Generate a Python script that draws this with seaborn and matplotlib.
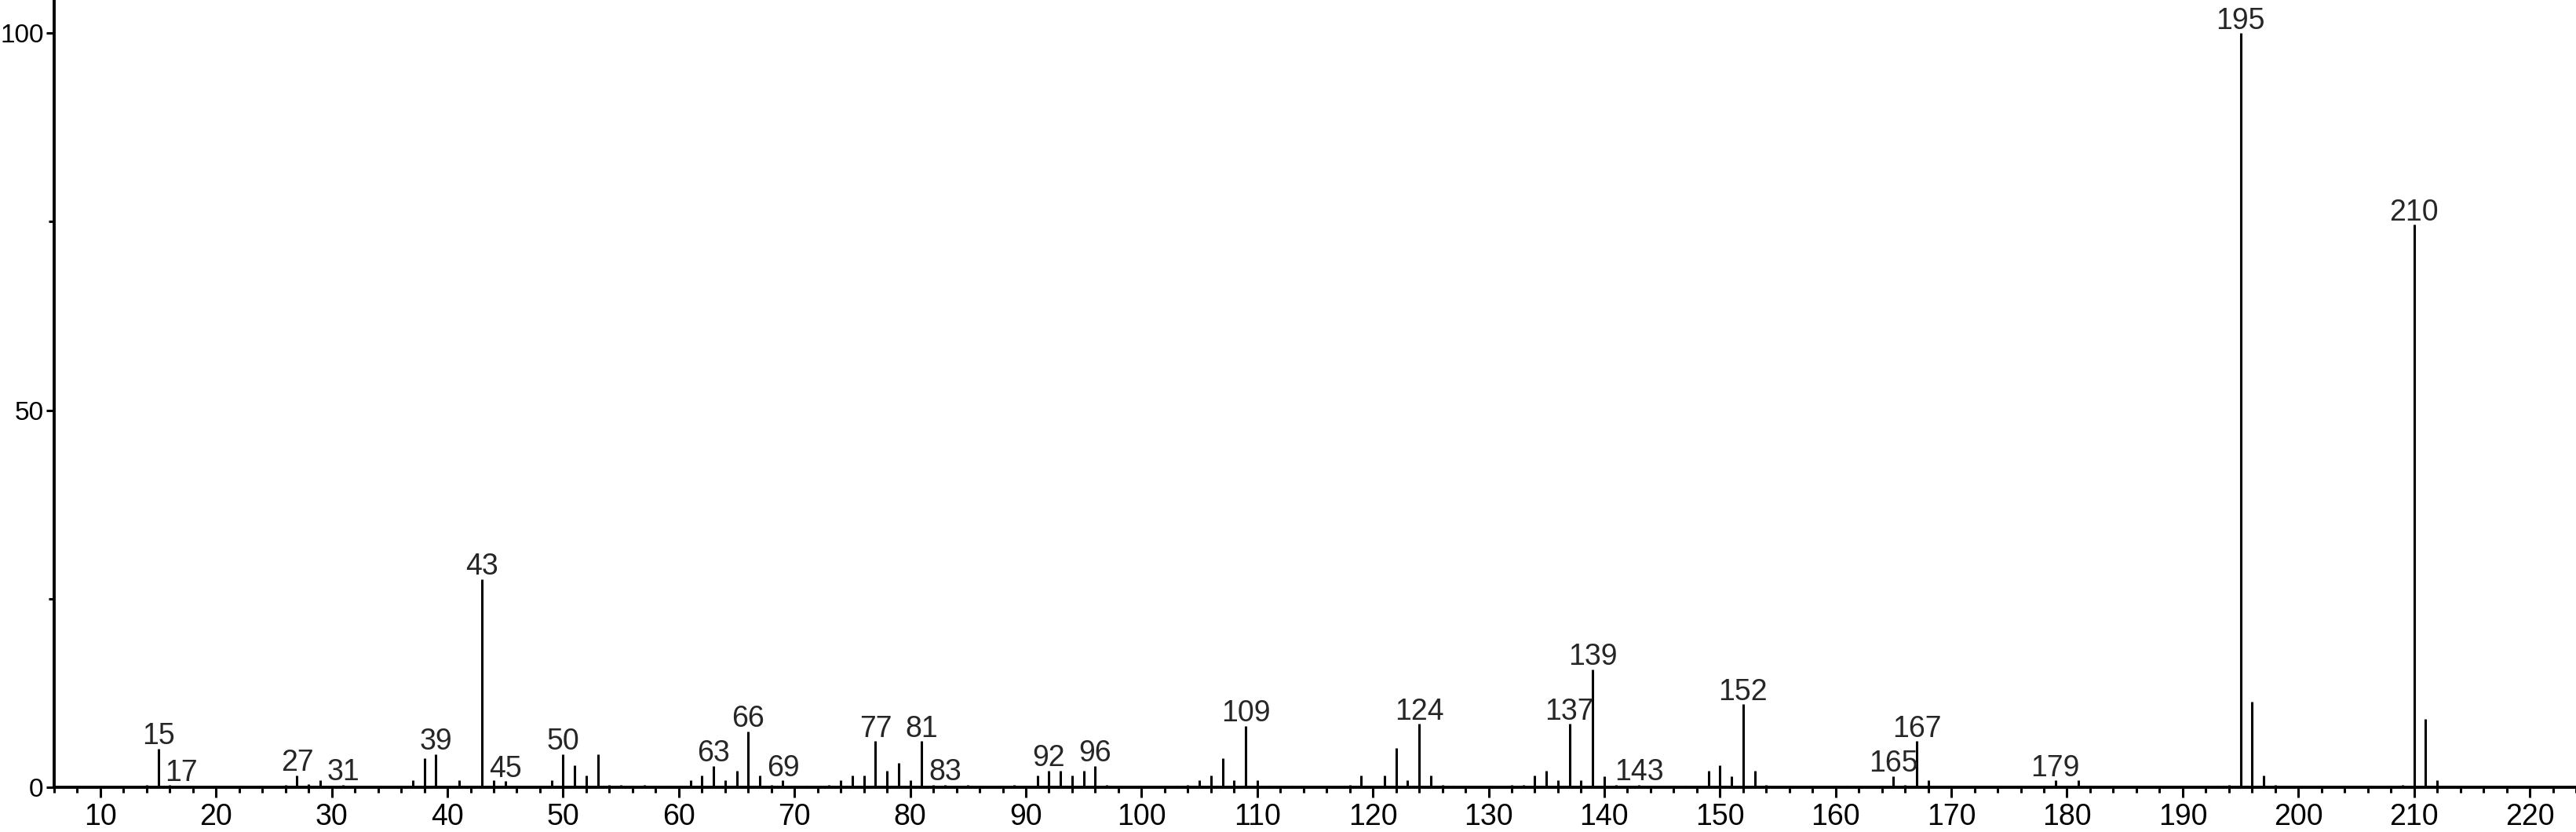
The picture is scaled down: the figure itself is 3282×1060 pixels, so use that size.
import matplotlib
matplotlib.use("Agg")
import matplotlib.pyplot as plt
import seaborn as sns
import numpy as np
from matplotlib.ticker import MultipleLocator

# espectro de masas: m/z e intensidad relativa (%)
mz = [14, 15, 16, 17, 26, 27, 28, 29, 31, 37, 38, 39, 41, 43, 44, 45, 46,
      49, 50, 51, 52, 53, 54, 55, 56, 57, 59, 61, 62, 63, 64, 65, 66, 67,
      68, 69, 71, 73, 74, 75, 76, 77, 78, 79, 80, 81, 82, 83, 85, 89, 91,
      92, 93, 94, 95, 96, 97, 99, 103, 104, 105, 106, 107, 108, 109, 110,
      111, 113, 118, 119, 121, 122, 123, 124, 125, 126, 127, 132, 133, 134,
      135, 136, 137, 138, 139, 140, 141, 143, 147, 149, 150, 151, 152, 153,
      154, 161, 162, 163, 164, 165, 166, 167, 168, 169, 177, 179, 181, 182,
      193, 194, 195, 196, 197, 198, 209, 210, 211, 212, 213]
intensity = [0.3, 5.1, 0.3, 0.2, 0.3, 1.6, 0.4, 0.9, 0.3, 0.9, 3.8, 4.4, 0.9,
             27.6, 0.9, 0.8, 0.2, 0.9, 4.4, 2.9, 1.6, 4.4, 0.3, 0.3, 0.2, 0.3,
             0.2, 0.9, 1.6, 2.8, 0.9, 2.2, 7.4, 1.6, 0.3, 0.9, 0.2, 0.3, 0.9,
             1.6, 1.6, 6.1, 2.2, 3.2, 0.9, 6.1, 0.3, 0.3, 0.3, 0.3, 1.6, 2.2,
             2.2, 1.6, 2.2, 2.8, 0.3, 0.2, 0.2, 0.3, 0.9, 1.6, 3.8, 0.9, 8.1,
             0.9, 0.2, 0.2, 0.3, 1.6, 1.6, 5.2, 0.9, 8.4, 1.6, 0.3, 0.2, 0.3,
             0.3, 1.6, 2.2, 0.9, 8.4, 0.9, 15.6, 1.5, 0.3, 0.3, 0.2, 2.2, 2.9,
             1.5, 11.0, 2.2, 0.3, 0.2, 0.2, 0.2, 0.2, 1.5, 0.3, 6.1, 0.9, 0.2,
             0.2, 0.9, 0.9, 0.2, 0.2, 0.3, 100.0, 11.3, 1.6, 0.3, 0.3, 74.6,
             9.1, 0.9, 0.2]

# picos con etiqueta
labeled = [15, 17, 27, 31, 39, 43, 45, 50, 63, 66, 69, 77, 81, 83, 92, 96,
           109, 124, 137, 139, 143, 152, 165, 167, 179, 195, 210]

sns.set_style("ticks")
plt.rcParams['font.family'] = ['Liberation Sans', 'DejaVu Sans']

fig = plt.figure(figsize=(32.82, 10.60), dpi=100)
ax = fig.add_axes([0.021, 0.0538, 0.979, 0.9462])

ax.vlines(mz, 0, intensity, color='black', linewidth=2.2)

peaks = dict(zip(mz, intensity))
for m in labeled:
    ax.text(m, peaks[m] + 0.6, str(m), ha='center', va='baseline', fontsize=27,
            clip_on=False)

ax.set_xlim(6.0, 224.0)
ax.set_ylim(0, 104.4)
ax.xaxis.set_major_locator(MultipleLocator(10))
ax.xaxis.set_minor_locator(MultipleLocator(2))
ax.yaxis.set_major_locator(MultipleLocator(50))
ax.yaxis.set_minor_locator(MultipleLocator(25))
ax.set_xticks(np.arange(10, 221, 10))

ax.tick_params(axis='x', which='major', direction='out', length=9.5, width=2.2,
               labelsize=27, pad=5, color='black', labelcolor='black')
ax.tick_params(axis='y', which='major', direction='out', length=7.5, width=2.2,
               labelsize=24, pad=2, color='black', labelcolor='black')
ax.tick_params(axis='both', which='minor', direction='out', length=5, width=2.2,
               color='black')

sns.despine(ax=ax, top=True, right=True)
for side in ['left', 'bottom']:
    ax.spines[side].set_linewidth(2.8)
    ax.spines[side].set_color('black')

fig.savefig('out.png', dpi=100, facecolor='white')
